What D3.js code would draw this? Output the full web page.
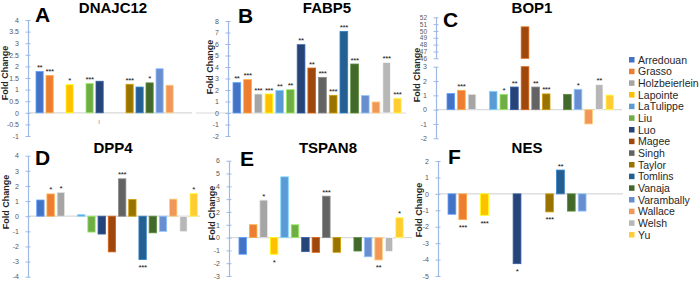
<!DOCTYPE html>
<html>
<head>
<meta charset="utf-8">
<script src="https://cdn.jsdelivr.net/npm/d3@7"></script>
<style>
  body { margin: 0; background: #fff; }
  svg { display: block; font-family: "Liberation Sans", Arial, sans-serif; }
</style>
</head>
<body>
<div id="chart"></div>
<script>
// Data
const categories = ["Arredouan", "Grasso", "Holzbeierlein", "Lapointe", "LaTulippe", "Liu", "Luo", "Magee",
  "Singh", "Taylor", "Tomlins", "Vanaja", "Varambally", "Wallace", "Welsh", "Yu"];
const colors = ["#4472C4", "#ED7D31", "#A5A5A5", "#FFC000", "#5B9BD5", "#70AD47", "#264478", "#9E480E",
  "#636363", "#997300", "#255E91", "#43682B", "#698ED0", "#F1975A", "#B7B7B7", "#FFCD33"];

const dnajc12 = [1.78, 1.61, null, 1.21, null, 1.26, 1.36, null, null, 1.23, 1.11, 1.29, 1.9, 1.19, null, null];
const dnajc12Sig = ["**", "***", "", "*", "", "***", "", "", "", "***", "", "*", "", "", "", ""];

const fabp5 = [2.64, 2.9, 1.65, 1.65, 1.97, 2.03, 5.94, 3.91, 3.1, 1.54, 7.1, 4.26, 1.51, 0.96, 4.4, 1.28];
const fabp5Sig = ["**", "***", "***", "***", "**", "**", "**", "**", "***", "***", "***", "***", "", "", "***", "***"];

const bop1 = [1.12, 1.35, 1.07, null, 1.28, 1.07, 1.58, 50.6, 1.58, 1.1, null, 1.07, 1.42, -1.0, 1.76, 1.02];
const bop1Sig = ["", "***", "", "", "", "*", "**", "", "**", "***", "", "", "*", "", "**", ""];

const dpp4 = [1.07, 1.47, 1.57, null, 0.1, -1.05, -1.18, -2.36, 2.47, 1.1, -2.87, -1.1, -1.0, 1.13, -1.03, 1.5];
const dpp4Sig = ["", "*", "*", "", "", "", "", "", "***", "", "***", "", "", "", "", "*"];

const tspan8 = [-1.3, 1.0, 2.92, -1.3, 4.74, 1.0, -1.1, -1.15, 3.23, -1.15, null, -1.05, -1.5, -1.75, -1.1, 1.55];
const tspan8Sig = ["", "", "*", "*", "", "", "", "", "***", "", "", "", "", "**", "", "*"];

const nes = [-1.24, -1.57, null, -1.3, null, null, -4.25, null, null, -1.1, 1.45, -1.05, -1.05, null, null, null];
const nesSig = ["", "***", "", "***", "", "", "*", "", "", "***", "**", "", "", "", "", ""];

// Layout
const width = 700, height = 293;
const axisColor = "#9DB9E4";

const panels = [
  { letter: "A", title: "DNAJC12", vals: dnajc12, sig: dnajc12Sig,
    dom: [-1, 4], yr: [136, 20], ticks: d3.range(-1, 4.01, 0.5), ax: 28, xr: [34.6, 194.6], z: [28, 192],
    lx: 35, ly: 22, tx: 113, ty: 13, fx: 8, fy: 73 },
  { letter: "B", title: "FABP5", vals: fabp5, sig: fabp5Sig,
    dom: [-2, 8], yr: [136, 21], ticks: d3.range(-2, 8.01, 1), ax: 228, xr: [231.5, 402.7], z: [196, 406],
    lx: 238, ly: 23, tx: 327, ty: 13, fx: 213, fy: 67 },
  { letter: "C", title: "BOP1", vals: bop1, sig: bop1Sig,
    dom: [-2, 3], yr: [138.3, 66.7], ticks: d3.range(-2, 3.01, 1), ax: 436, xr: [445.5, 615.1], z: [436, 622],
    upper: { dom: [46, 52], yr: [58.3, 17.3], ticks: d3.range(46, 52.01, 1) },
    lx: 443, ly: 27, tx: 532, ty: 13, fx: 420, fy: 75 },
  { letter: "D", title: "DPP4", vals: dpp4, sig: dpp4Sig,
    dom: [-4, 4], yr: [276.7, 155.7], ticks: d3.range(-4, 4.01, 1), ax: 28, xr: [35.3, 198.8], z: [28, 200],
    lx: 35, ly: 165, tx: 113, ty: 153, fx: 9, fy: 202 },
  { letter: "E", title: "TSPAN8", vals: tspan8, sig: tspan8Sig,
    dom: [-3, 6], yr: [276, 160.7], ticks: d3.range(-3, 6.01, 1), ax: 229, xr: [237.5, 404.7], z: [229, 412],
    lx: 240, ly: 166, tx: 328, ty: 153, fx: 215, fy: 213 },
  { letter: "F", title: "NES", vals: nes, sig: nesSig,
    dom: [-5, 2], yr: [276, 161], ticks: d3.range(-5, 2.01, 1), ax: 438, xr: [446.5, 620.1], z: [438, 623],
    lx: 448, ly: 164, tx: 527, ty: 153, fx: 422, fy: 210 }
];

const svg = d3.select("#chart")
  .append("svg")
  .attr("width", width)
  .attr("height", height);

function styleAxis(a, fs) {
  a.select(".domain").attr("stroke", axisColor).attr("stroke-width", 1.2);
  a.selectAll(".tick line").attr("stroke", axisColor).attr("x1", 2.5).attr("x2", -2.5);
  a.selectAll(".tick text").attr("fill", "#595959").attr("font-size", fs);
}

function drawPanel(p) {
  const g = svg.append("g");

  const x = d3.scaleBand()
    .domain(categories)
    .range(p.xr)
    .paddingInner(0.28)
    .paddingOuter(0.14);

  const y = d3.scaleLinear().domain(p.dom).range(p.yr);
  const clampV = v => Math.max(p.dom[0], Math.min(p.dom[1], v));

  // zero line
  g.append("line")
    .attr("x1", p.z[0]).attr("x2", p.z[1])
    .attr("y1", y(0)).attr("y2", y(0))
    .attr("stroke", "#d9d9d9").attr("stroke-width", 1.2);

  const rows = categories
    .map((c, i) => ({ c, v: p.vals[i], s: p.sig[i], col: colors[i] }))
    .filter(d => d.v != null);

  // bars
  g.selectAll("rect.bar")
    .data(rows)
    .enter()
    .append("rect")
    .attr("class", "bar")
    .attr("x", d => x(d.c))
    .attr("width", x.bandwidth())
    .attr("y", d => Math.min(y(0), y(clampV(d.v))))
    .attr("height", d => Math.abs(y(clampV(d.v)) - y(0)))
    .attr("fill", d => d.col)
    .attr("stroke", d => d3.color(d.col).brighter(0.9))
    .attr("stroke-width", 0.8);

  // upper segment of a broken axis
  if (p.upper) {
    const yu = d3.scaleLinear().domain(p.upper.dom).range(p.upper.yr);
    g.selectAll("rect.upper")
      .data(rows.filter(d => d.v > p.dom[1]))
      .enter()
      .append("rect")
      .attr("class", "upper")
      .attr("x", d => x(d.c))
      .attr("width", x.bandwidth())
      .attr("y", d => yu(d.v))
      .attr("height", d => yu(p.upper.dom[0]) - yu(d.v))
      .attr("fill", d => d.col)
      .attr("stroke", d => d3.color(d.col).brighter(0.9))
      .attr("stroke-width", 0.8);

    g.append("g")
      .attr("transform", `translate(${p.ax},0)`)
      .call(d3.axisLeft(yu).tickValues(p.upper.ticks).tickSizeOuter(0).tickPadding(3).tickFormat(String))
      .call(a => styleAxis(a, 6.5));
  }

  // significance stars
  g.selectAll("text.sig")
    .data(rows.filter(d => d.s))
    .enter()
    .append("text")
    .attr("class", "sig")
    .attr("x", d => x(d.c) + x.bandwidth() / 2)
    .attr("y", d => d.v >= 0 ? y(clampV(d.v)) - 1.5 : y(clampV(d.v)) + 10.5)
    .attr("text-anchor", "middle")
    .attr("font-size", 8)
    .attr("letter-spacing", -0.4)
    .attr("fill", "#111")
    .text(d => d.s);

  // y axis
  g.append("g")
    .attr("transform", `translate(${p.ax},0)`)
    .call(d3.axisLeft(y).tickValues(p.ticks).tickSizeOuter(0).tickPadding(3).tickFormat(String))
    .call(a => styleAxis(a, 7));

  // axis title
  g.append("text")
    .attr("transform", `translate(${p.fx},${p.fy}) rotate(-90)`)
    .attr("text-anchor", "middle")
    .attr("font-size", 9)
    .attr("font-weight", "bold")
    .attr("fill", "#262626")
    .text("Fold Change");

  // panel letter and gene title
  g.append("text")
    .attr("x", p.lx).attr("y", p.ly)
    .attr("font-size", 21).attr("font-weight", "bold").attr("fill", "#000")
    .text(p.letter);

  g.append("text")
    .attr("x", p.tx).attr("y", p.ty)
    .attr("text-anchor", "middle")
    .attr("font-size", 15).attr("font-weight", "bold").attr("fill", "#000")
    .text(p.title);
}

panels.forEach(drawPanel);

// stray category label under panel A
svg.append("text")
  .attr("x", 99).attr("y", 124)
  .attr("text-anchor", "middle")
  .attr("font-size", 6).attr("fill", "#7f7f7f")
  .text("I");

// Legend
const legend = svg.append("g").attr("transform", "translate(629,60)");
const legendY = d3.scalePoint().domain(categories).range([0, 175]);

legend.selectAll("rect")
  .data(categories)
  .enter()
  .append("rect")
  .attr("x", 0)
  .attr("y", d => legendY(d) - 3)
  .attr("width", 5.5)
  .attr("height", 5.5)
  .attr("fill", (d, i) => colors[i]);

legend.selectAll("text")
  .data(categories)
  .enter()
  .append("text")
  .attr("x", 9)
  .attr("y", d => legendY(d) + 3.6)
  .attr("font-size", 10.5)
  .attr("fill", "#262626")
  .text(d => d);
</script>
</body>
</html>
